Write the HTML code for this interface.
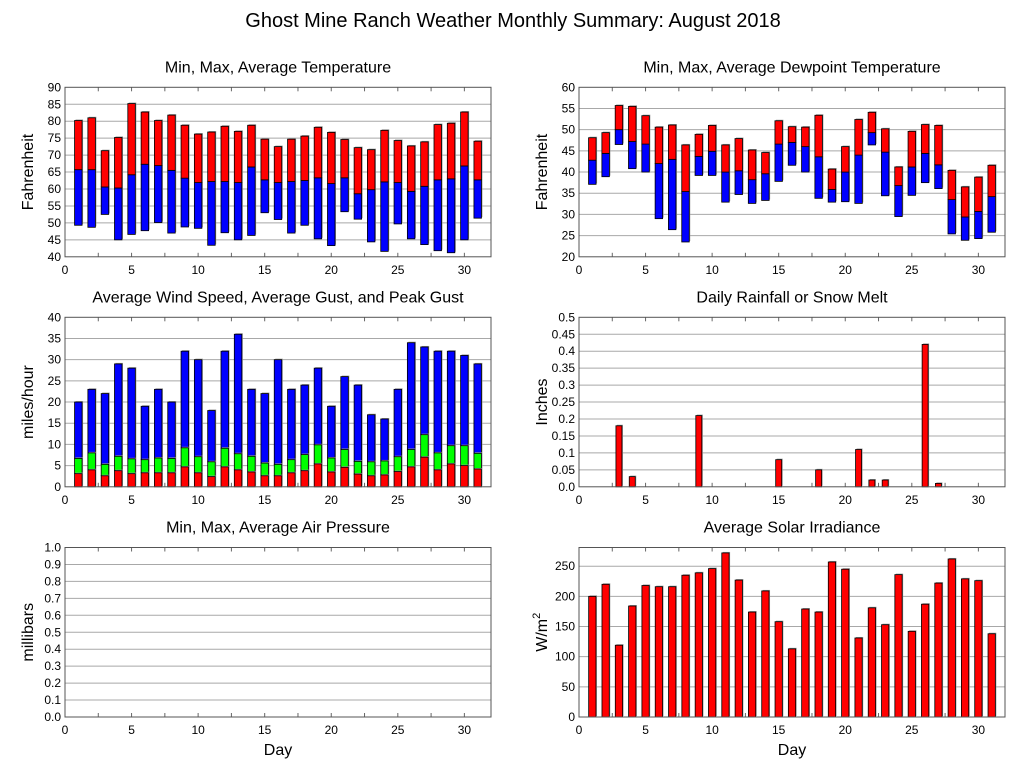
<!DOCTYPE html>
<html><head><meta charset="utf-8"><style>
body{margin:0;background:#fff;}
svg{display:block;font-family:"Liberation Sans",Arial,sans-serif;}
</style></head><body>
<svg id="c" width="1027" height="772">
<text x="513" y="27" font-size="20" text-anchor="middle">Ghost Mine Ranch Weather Monthly Summary: August 2018</text>
</svg>
<script>
const days = Array.from({length:31},(_,i)=>i+1);
const tempMax = [80.2,81,71.3,75.2,85.2,82.7,80.2,81.8,78.8,76.2,76.8,78.5,77,78.8,74.7,72.5,74.7,75.6,78.2,76.7,74.6,72.2,71.6,77.3,74.3,72.7,73.9,79,79.4,82.7,74.1];
const tempAvg = [65.7,65.7,60.6,60.3,64.2,67.3,66.9,65.5,63.2,61.9,62.2,62.2,61.9,66.5,62.7,61.9,62.2,62.5,63.3,61.6,63.3,58.6,59.8,62.1,61.9,59.3,60.8,62.7,63,66.8,62.7];
const tempMin = [49.3,48.7,52.5,45,46.6,47.7,50.1,47,48.8,48.4,43.4,47.1,45,46.3,53,51,47,49.3,45.3,43.3,53.3,51.1,44.4,41.6,49.7,45.3,43.6,41.8,41.2,45,51.4];
const dewMax = [48.1,49.3,55.7,55.5,53.3,50.6,51.1,46.4,48.9,51,46.4,47.9,45.2,44.6,52.1,50.7,50.6,53.4,40.7,46,52.4,54.1,50.2,41.2,49.6,51.2,51,40.4,36.5,38.8,41.6];
const dewAvg = [42.8,44.4,50,47.2,46.6,42,43,35.4,43.7,44.9,40,40.3,38.2,39.6,46.6,47,46,43.6,35.9,40,44,49.3,44.7,36.8,41.2,44.4,41.7,33.5,29.4,30.7,34.2];
const dewMin = [37.1,38.9,46.5,40.8,40,29,26.4,23.5,39.2,39.2,32.9,34.7,32.6,33.3,37.8,41.6,40,33.8,32.9,33,32.6,46.4,34.4,29.5,34.5,37.5,36.1,25.4,23.9,24.3,25.8];
const windPeak = [20,23,22,29,28,19,23,20,32,30,18,32,36,23,22,30,23,24,28,19,26,24,17,16,23,34,33,32,32,31,29];
const windGust = [6.7,8,5.3,7.2,6.6,6.4,6.8,6.7,9.2,7.1,5.9,9.1,7.8,7.2,5.6,5.3,6.4,7.6,9.9,6.8,8.8,6,5.9,6.1,7.1,8.8,12.3,8,9.7,9.7,7.9];
const windAvg = [3.1,4,2.6,3.8,3.1,3.3,3.3,3.3,4.7,3.3,2.4,4.7,4,3.5,2.6,2.6,3.3,3.8,5.4,3.5,4.6,3,2.6,2.8,3.6,4.7,7,4,5.4,5,4.2];
const rain = [0,0,0.18,0.03,0,0,0,0,0.21,0,0,0,0,0,0.08,0,0,0.05,0,0,0.11,0.02,0.02,0,0,0.42,0.01,0,0,0,0];
const solar = [200,220,119,184,218,216,216,235,239,246,272,227,174,209,158,113,179,174,257,245,131,181,153,236,142,187,222,262,229,226,138];
const xTicks = [0,5,10,15,20,25,30];

const NS='http://www.w3.org/2000/svg';
const svg=document.getElementById('c');
function el(tag,attrs,parent){const e=document.createElementNS(NS,tag);for(const k in attrs)e.setAttribute(k,attrs[k]);(parent||svg).appendChild(e);return e;}

function panel(o){
  const g=el('g',{});
  
  
  const L=o.L,R=o.L+426,T=o.T,B=o.T+169.5;
  const xs=d=>L+(d/32)*(R-L);
  const ys=v=>B-(v-o.ymin)/(o.ymax-o.ymin)*(B-T);
  o.xs=xs;o.ys=ys;
  // grid
  o.yTicks.forEach((v,i)=>{
    const y=ys(v);
    if(i>0&&i<o.yTicks.length-1||o.yTicks[i]<o.ymax&&i>0){const gl=el('line',{x1:L,x2:R,y1:y,y2:y,stroke:'#a8a8a8','stroke-width':1},g);}
    const t=el('text',{x:L-4,y:y+4,'font-size':12,'text-anchor':'end'},g);
    t.textContent=o.yLabels[i];
    
    
  });
  for(let d=0;d<=32;d+=2.5){const x=xs(d);el('line',{x1:x,x2:x,y1:B,y2:B-4,stroke:'#666'},g);el('line',{x1:x,x2:x,y1:T,y2:T+4,stroke:'#666'},g);}
  xTicks.forEach(d=>{const t=el('text',{x:xs(d),y:B+17,'font-size':12,'text-anchor':'middle'},g);t.textContent=d;
    
    });
  o.draw(o,g);
  el('rect',{x:L,y:T,width:R-L,height:B-T,fill:'none',stroke:'#555','stroke-width':1},g);
  const tt=el('text',{x:(L+R)/2,y:T-15,'font-size':16,'text-anchor':'middle'},g);tt.textContent=o.title;
  
  
  const yt=el('text',{x:0,y:0,'font-size':16,'text-anchor':'middle',transform:`translate(${o.L-32},${(T+B)/2}) rotate(-90)`},g);
  if(o.yHtml){yt.innerHTML=o.yHtml;}else yt.textContent=o.ylabel;
  
  
  if(o.xlabel){const xt=el('text',{x:(L+R)/2,y:B+38,'font-size':16,'text-anchor':'middle'},g);xt.textContent='Day';
    
    }
}
function bar(g,o,d,v0,v1,color,w,name){
  const x=o.xs(d)-w/2,y=o.ys(v1),h=o.ys(v0)-o.ys(v1);
  if(h<=0)return;
  el('rect',{x:x+1,y:y-1,width:w,height:h,fill:'#999'},g);
  const r=el('rect',{x:x,y:y,width:w,height:h,fill:color,stroke:'#000','stroke-width':0.8},g);
  
  
}
const rng=(a,b,s)=>{const r=[];for(let v=a;v<=b+1e-9;v+=s)r.push(+v.toFixed(3));return r;};

panel({name:'temperature-chart',L:65,T:87.3,ymin:40,ymax:90,yTicks:rng(40,90,5),yLabels:rng(40,90,5).map(String),title:'Min, Max, Average Temperature',ylabel:'Fahrenheit',
 draw:(o,g)=>days.forEach((d,i)=>{bar(g,o,d,tempMin[i],tempAvg[i],'#0000ff',7.5,'temp-min-avg-bar');bar(g,o,d,tempAvg[i],tempMax[i],'#ff0000',7.5,'temp-avg-max-bar');})});
panel({name:'dewpoint-chart',L:579,T:87.3,ymin:20,ymax:60,yTicks:rng(20,60,5),yLabels:rng(20,60,5).map(String),title:'Min, Max, Average Dewpoint Temperature',ylabel:'Fahrenheit',
 draw:(o,g)=>days.forEach((d,i)=>{bar(g,o,d,dewMin[i],dewAvg[i],'#0000ff',7.5,'dew-min-avg-bar');bar(g,o,d,dewAvg[i],dewMax[i],'#ff0000',7.5,'dew-avg-max-bar');})});
panel({name:'wind-chart',L:65,T:317.3,ymin:0,ymax:40,yTicks:rng(0,40,5),yLabels:rng(0,40,5).map(String),title:'Average Wind Speed, Average Gust, and Peak Gust',ylabel:'miles/hour',
 draw:(o,g)=>days.forEach((d,i)=>{bar(g,o,d,windGust[i],windPeak[i],'#0000ff',7.5,'peak-gust-bar');bar(g,o,d,windAvg[i],windGust[i],'#00ff00',7.5,'avg-gust-bar');bar(g,o,d,0,windAvg[i],'#ff0000',7.5,'avg-wind-bar');})});
panel({name:'rainfall-chart',L:579,T:317.3,ymin:0,ymax:0.5,yTicks:rng(0,0.5,0.05),yLabels:['0.0','0.05','0.1','0.15','0.2','0.25','0.3','0.35','0.4','0.45','0.5'],title:'Daily Rainfall or Snow Melt',ylabel:'Inches',
 draw:(o,g)=>days.forEach((d,i)=>bar(g,o,d,0,rain[i],'#ff0000',6,'rain-bar'))});
panel({name:'pressure-chart',L:65,T:547.5,ymin:0,ymax:1,yTicks:rng(0,1,0.1),yLabels:rng(0,1,0.1).map(v=>v.toFixed(1)),title:'Min, Max, Average Air Pressure',ylabel:'millibars',xlabel:true,
 draw:()=>{}});
panel({name:'solar-chart',L:579,T:547.5,ymin:0,ymax:281,yTicks:rng(0,250,50),yLabels:rng(0,250,50).map(String),title:'Average Solar Irradiance',yHtml:'W/m<tspan dy="-7" font-size="11">2</tspan>',xlabel:true,
 draw:(o,g)=>days.forEach((d,i)=>bar(g,o,d,0,solar[i],'#ff0000',7.3,'solar-bar'))});
</script>
</body></html>
